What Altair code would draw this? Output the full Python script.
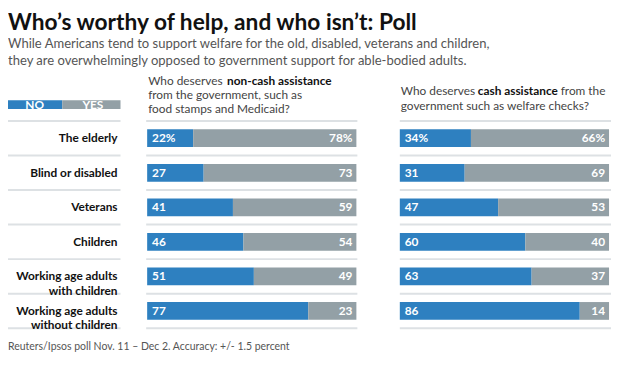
import altair as alt
import pandas as pd

FONT = "Lato"
BLUE = "#2e80c0"
GRAY = "#93a0a6"
LINE = "#dde1e4"

categories = ["The elderly", "Blind or disabled", "Veterans", "Children",
              "Working age adults with children", "Working age adults without children"]
row_labels = ["The elderly", "Blind or disabled", "Veterans", "Children",
              "Working age adults\nwith children", "Working age adults\nwithout children"]
noncash_no = [22, 27, 41, 46, 51, 77]
noncash_yes = [78, 73, 59, 54, 49, 23]
cash_no = [34, 31, 47, 60, 63, 86]
cash_yes = [66, 69, 53, 40, 37, 14]
legend_labels = ["NO", "YES"]

title_text = "Who’s worthy of help, and who isn’t: Poll"
subtitle_lines = ["While Americans tend to support welfare for the old, disabled, veterans and children,",
                  "they are overwhelmingly opposed to government support for able-bodied adults."]
footer_text = "Reuters/Ipsos poll Nov. 11 – Dec 2. Accuracy: +/- 1.5 percent"


def fmt(vals):
    return [f"{v}%" if i == 0 else str(v) for i, v in enumerate(vals)]


df = pd.DataFrame({
    "cat": categories,
    "label": row_labels,
    "nc_no": noncash_no, "nc_yes": noncash_yes,
    "c_no": cash_no, "c_yes": cash_yes,
    "nc_no_t": fmt(noncash_no), "nc_yes_t": fmt(noncash_yes),
    "c_no_t": fmt(cash_no), "c_yes_t": fmt(cash_yes),
    "zero": 0, "hundred": 100,
})

yscale = alt.Scale(domain=categories, range=[112, 322], paddingInner=0, paddingOuter=0)
Y = alt.Y("cat:N", scale=yscale, axis=None)
Ytop = alt.Y("cat:N", scale=yscale, axis=None, bandPosition=0)


def panel(no, yes, no_t, yes_t, rng, sep_range):
    xs = alt.Scale(domain=[0, 100], range=rng)
    base = alt.Chart(df)
    b_no = base.mark_bar(height=18, color=BLUE).encode(
        x=alt.X("zero:Q", scale=xs, axis=None), x2=f"{no}:Q", y=Y)
    b_yes = base.mark_bar(height=18, color=GRAY).encode(
        x=alt.X(f"{no}:Q", scale=xs, axis=None), x2="hundred:Q", y=Y)
    t_no = base.mark_text(align="left", baseline="middle", dx=5, font=FONT,
                          fontSize=12, fontWeight="bold", color="white").encode(
        x=alt.X("zero:Q", scale=xs, axis=None), y=Y, text=f"{no_t}:N")
    t_yes = base.mark_text(align="right", baseline="middle", dx=-4, font=FONT,
                           fontSize=12, fontWeight="bold", color="white").encode(
        x=alt.X("hundred:Q", scale=xs, axis=None), y=Y, text=f"{yes_t}:N")
    seps = base.mark_rule(color=LINE, strokeWidth=2).encode(
        x=alt.value(sep_range[0]), x2=alt.value(sep_range[1]), y=Ytop)
    bottom = alt.Chart(alt.Data(values=[{}])).mark_rule(color=LINE, strokeWidth=2).encode(
        x=alt.value(sep_range[0]), x2=alt.value(sep_range[1]), y=alt.value(322))
    return alt.layer(seps, bottom, b_no, b_yes, t_no, t_yes)


left = panel("nc_no", "nc_yes", "nc_no_t", "nc_yes_t", [141, 353], [140, 354])
right = panel("c_no", "c_yes", "c_no_t", "c_yes_t", [397, 609], [397, 611])

one = alt.Data(values=[{}])


def txt(text, x, y, size=12, weight="normal", color="#444", align="left"):
    return alt.Chart(one).mark_text(align=align, baseline="middle", font=FONT,
                                    fontSize=size, fontWeight=weight, color=color).encode(
        x=alt.value(x), y=alt.value(y), text=alt.value(text))


# row labels column
labels = alt.Chart(df).mark_text(align="right", baseline="middle", font=FONT, fontSize=12,
                                 fontWeight="bold", color="#111", lineBreak="\n",
                                 lineHeight=14.5).encode(
    x=alt.value(111), y=Y, text="label:N")
label_seps = alt.Chart(df).mark_rule(color=LINE, strokeWidth=2).encode(
    x=alt.value(0), x2=alt.value(114), y=Ytop)
label_bottom = alt.Chart(one).mark_rule(color=LINE, strokeWidth=2).encode(
    x=alt.value(0), x2=alt.value(114), y=alt.value(322))

# legend
leg_no = alt.Chart(one).mark_rect(color=BLUE).encode(
    x=alt.value(0), x2=alt.value(55), y=alt.value(91), y2=alt.value(100))
leg_yes = alt.Chart(one).mark_rect(color=GRAY).encode(
    x=alt.value(55), x2=alt.value(114), y=alt.value(91), y2=alt.value(100))
leg_t1 = txt(legend_labels[0], 27, 96, size=12, weight="bold", color="white", align="center")
leg_t2 = txt(legend_labels[1], 86, 96, size=12, weight="bold", color="white", align="center")

texts = [
    txt(title_text, 0, 12.5, size=23, weight="bold", color="#111"),
    txt(subtitle_lines[0], 0, 34.5, size=13.2, color="#555"),
    txt(subtitle_lines[1], 0, 51, size=13.2, color="#555"),
    txt("Who deserves", 142, 72, color="#444"),
    txt("non-cash assistance", 222, 72, weight="bold", color="#111"),
    txt("from the government, such as", 142, 86, color="#444"),
    txt("food stamps and Medicaid?", 142, 100, color="#444"),
    txt("Who deserves", 398, 82, color="#444"),
    txt("cash assistance", 476, 82, weight="bold", color="#111"),
    txt("from the", 560, 82, color="#444"),
    txt("government such as welfare checks?", 398, 97, color="#444"),
    txt(footer_text, 0, 341, size=10.6, color="#555"),
]

chart = alt.layer(
    left, right, label_seps, label_bottom, labels, leg_no, leg_yes, leg_t1, leg_t2, *texts
).resolve_scale(x="independent").properties(
    width=612, height=369, autosize=alt.AutoSizeParams(type="none"), padding=0,
    background="white"
).configure_view(stroke=None)

chart.save("out.html", embed_options={"renderer": "svg", "actions": False})
